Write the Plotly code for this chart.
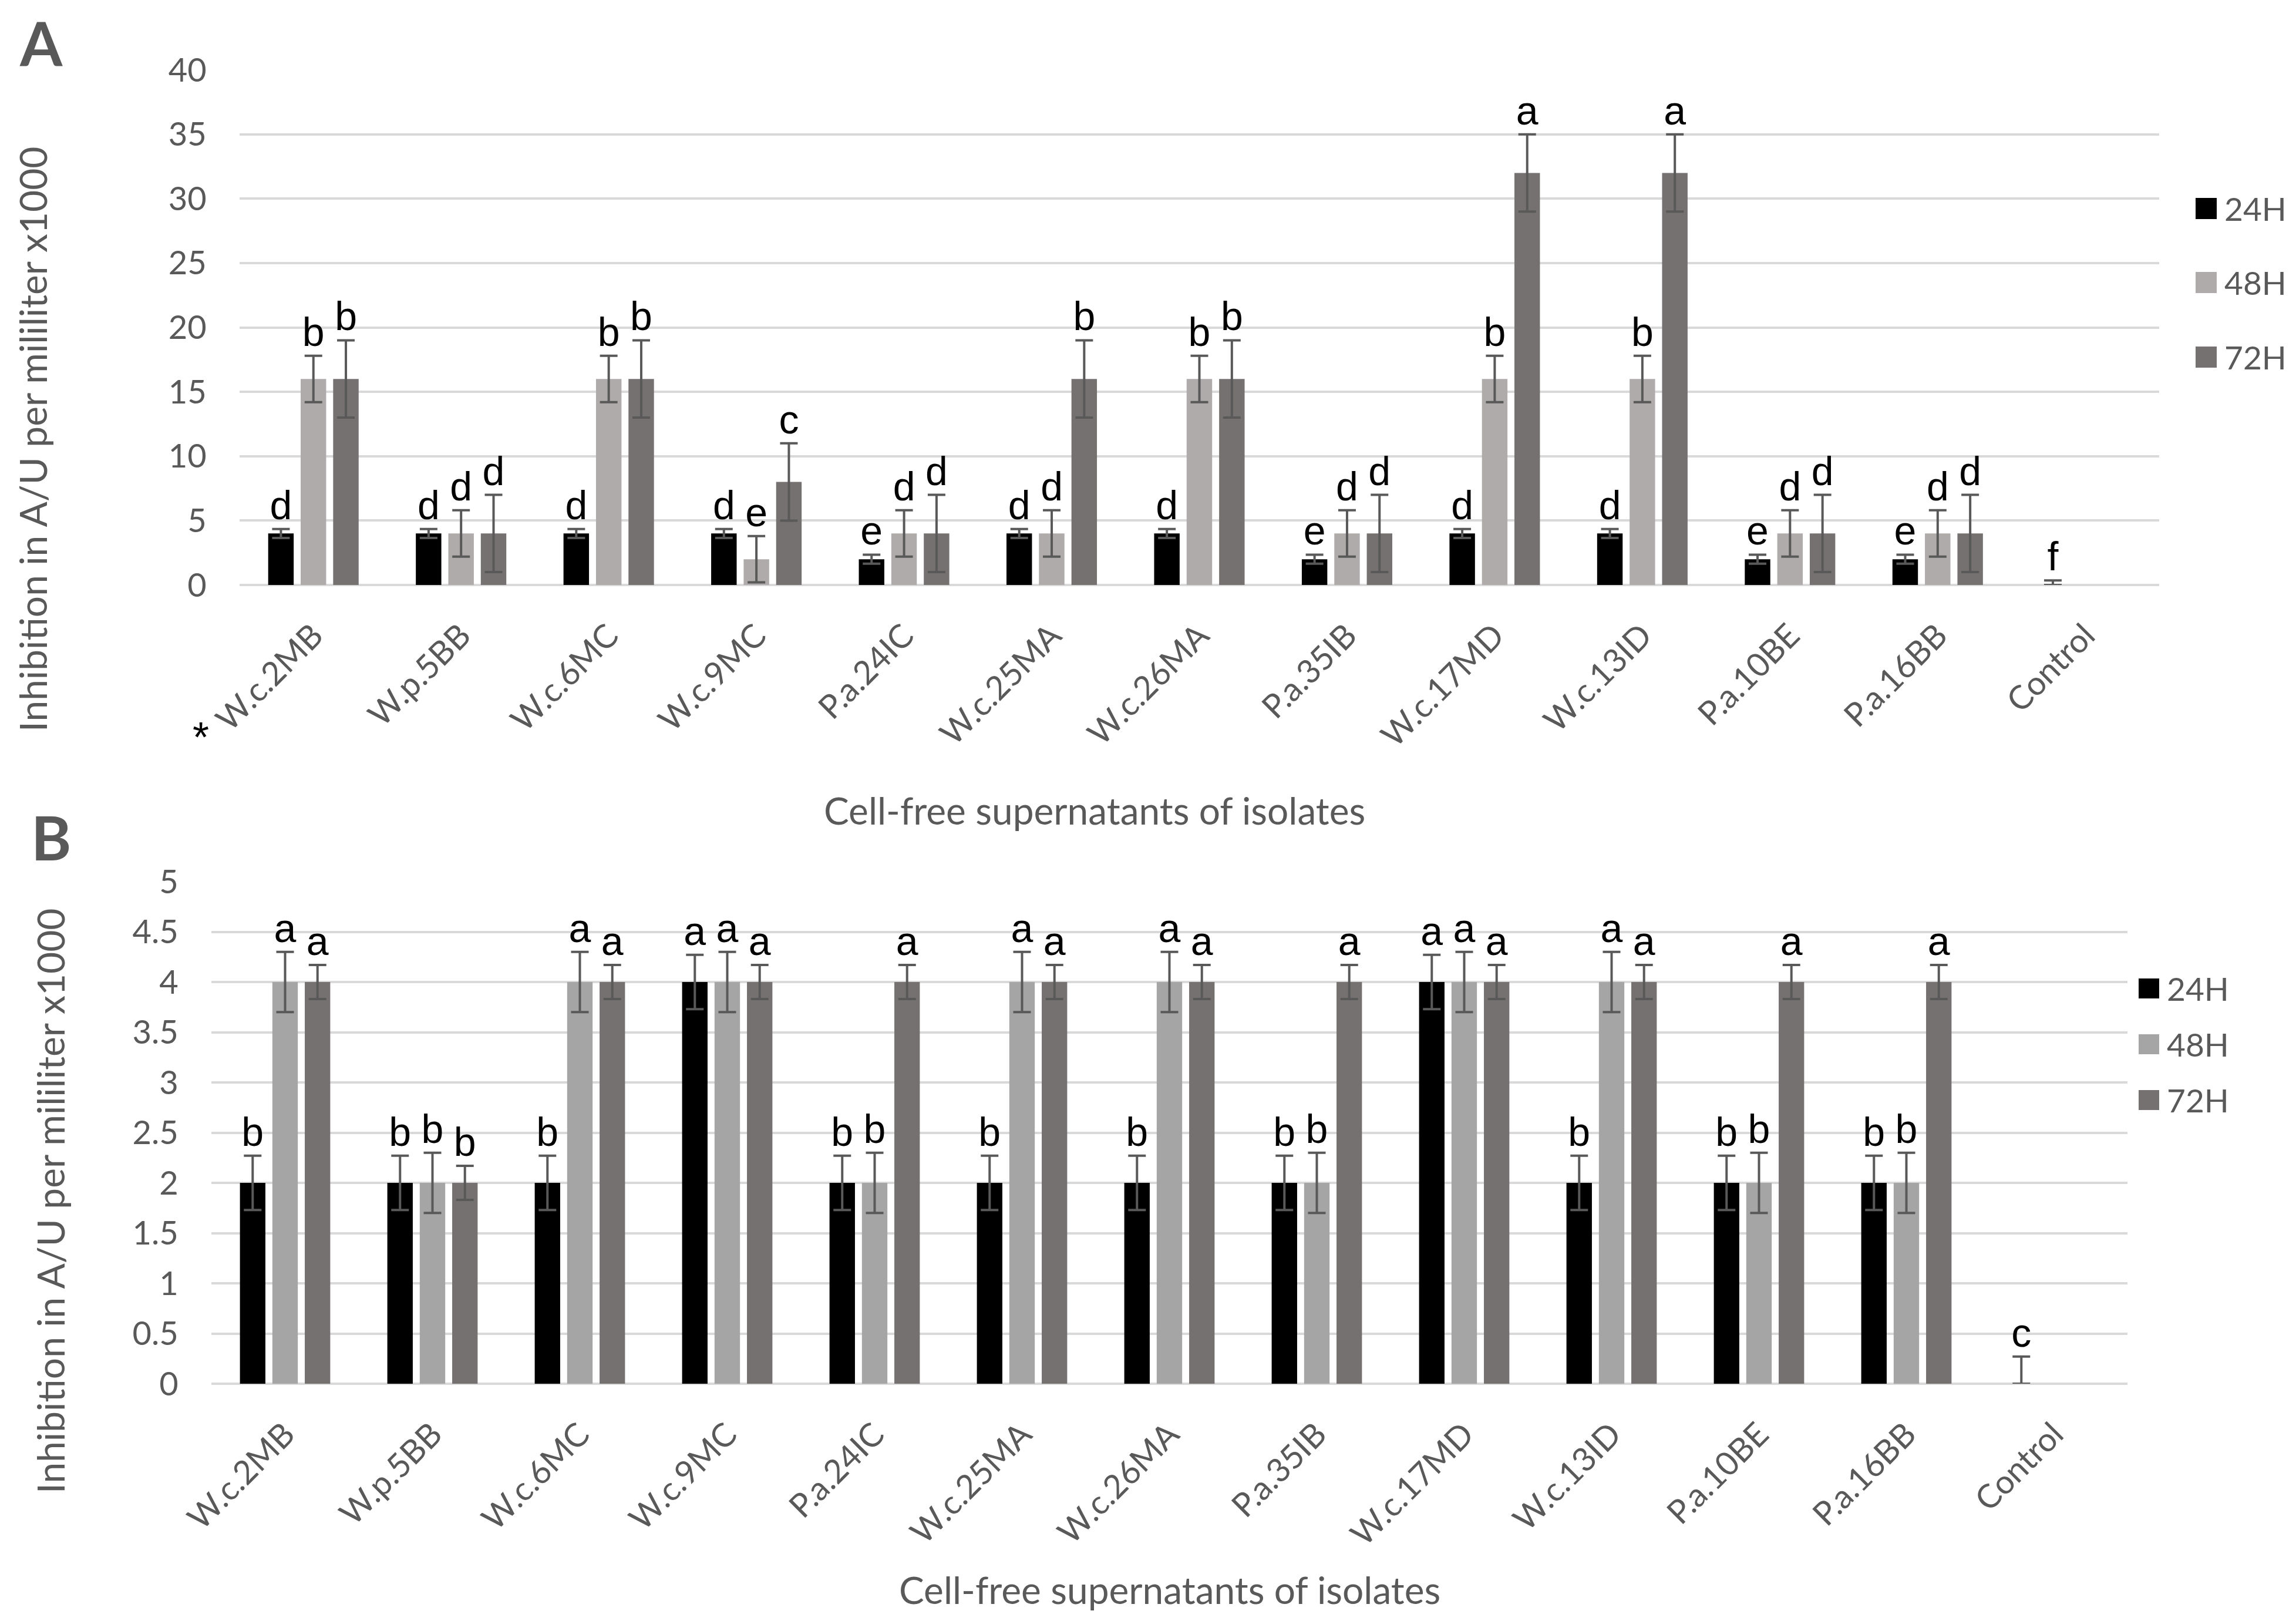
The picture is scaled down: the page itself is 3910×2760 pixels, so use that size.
import plotly.graph_objects as go

# ---------------- data ----------------
categories = ["W.c.2MB", "W.p.5BB", "W.c.6MC", "W.c.9MC", "P.a.24IC", "W.c.25MA",
              "W.c.26MA", "P.a.35IB", "W.c.17MD", "W.c.13ID", "P.a.10BE", "P.a.16BB", "Control"]
series_names = ["24H", "48H", "72H"]

# Panel A (Control shows no bar for 48H / 72H)
a_24 = [4, 4, 4, 4, 2, 4, 4, 2, 4, 4, 2, 2, 0]
a_48 = [16, 4, 16, 2, 4, 4, 16, 4, 16, 16, 4, 4, None]
a_72 = [16, 4, 16, 8, 4, 16, 16, 4, 32, 32, 4, 4, None]
a_err_24 = [0.35, 0.35, 0.35, 0.35, 0.35, 0.35, 0.35, 0.35, 0.35, 0.35, 0.35, 0.35, 0.35]
a_errm_24 = [0.35, 0.35, 0.35, 0.35, 0.35, 0.35, 0.35, 0.35, 0.35, 0.35, 0.35, 0.35, 0]
a_err_48 = [1.8, 1.8, 1.8, 1.8, 1.8, 1.8, 1.8, 1.8, 1.8, 1.8, 1.8, 1.8, 0]
a_err_72 = [3, 3, 3, 3, 3, 3, 3, 3, 3, 3, 3, 3, 0]
a_let_24 = ["d", "d", "d", "d", "e", "d", "d", "e", "d", "d", "e", "e", "f"]
a_let_48 = ["b", "d", "b", "e", "d", "d", "b", "d", "b", "b", "d", "d", ""]
a_let_72 = ["b", "d", "b", "c", "d", "b", "b", "d", "a", "a", "d", "d", ""]

# Panel B
b_24 = [2, 2, 2, 4, 2, 2, 2, 2, 4, 2, 2, 2, 0]
b_48 = [4, 2, 4, 4, 2, 4, 4, 2, 4, 4, 2, 2, None]
b_72 = [4, 2, 4, 4, 4, 4, 4, 4, 4, 4, 4, 4, None]
b_err_24 = [0.27, 0.27, 0.27, 0.27, 0.27, 0.27, 0.27, 0.27, 0.27, 0.27, 0.27, 0.27, 0.27]
b_errm_24 = [0.27, 0.27, 0.27, 0.27, 0.27, 0.27, 0.27, 0.27, 0.27, 0.27, 0.27, 0.27, 0]
b_err_48 = [0.3, 0.3, 0.3, 0.3, 0.3, 0.3, 0.3, 0.3, 0.3, 0.3, 0.3, 0.3, 0]
b_err_72 = [0.17, 0.17, 0.17, 0.17, 0.17, 0.17, 0.17, 0.17, 0.17, 0.17, 0.17, 0.17, 0]
b_let_24 = ["b", "b", "b", "a", "b", "b", "b", "b", "a", "b", "b", "b", "c"]
b_let_48 = ["a", "b", "a", "a", "b", "a", "a", "b", "a", "a", "b", "b", ""]
b_let_72 = ["a", "b", "a", "a", "a", "a", "a", "a", "a", "a", "a", "a", ""]

y_title = "Inhibition in A/U per mililiter x1000"
x_title = "Cell-free supernatants of isolates"

# ---------------- style ----------------
W, H = 3910, 2760
colors_a = ["#000000", "#AFABAB", "#767171"]
colors_b = ["#000000", "#A5A5A5", "#767171"]
GRAY = "#595959"
GRID = "#D9D9D9"
TICKFONT = dict(family="Lato", size=56, color=GRAY)
LETTERFONT = dict(family="Liberation Sans", size=68, color="#000000")


def px(x):
    return x / W


def py(y):
    return 1 - y / H


fig = go.Figure()


def add_panel(vals, errs, errms, letters, colors, xa, ya):
    for k in range(3):
        fig.add_trace(go.Bar(
            x=categories, y=vals[k], name=series_names[k],
            marker=dict(color=colors[k], line=dict(width=0)),
            offsetgroup=series_names[k],
            error_y=dict(type="data", array=errs[k], arrayminus=errms[k], symmetric=False,
                         color=GRAY, thickness=4, width=15),
            xaxis=xa, yaxis=ya, showlegend=False,
        ))
    for k in range(3):
        tops = [None if v is None else v + e for v, e in zip(vals[k], errs[k])]
        fig.add_trace(go.Scatter(
            x=categories, y=tops, text=letters[k], mode="text",
            textposition="top center", textfont=LETTERFONT,
            offsetgroup=series_names[k], cliponaxis=False,
            xaxis=xa, yaxis=ya, showlegend=False, hoverinfo="skip",
        ))


add_panel([a_24, a_48, a_72], [a_err_24, a_err_48, a_err_72],
          [a_errm_24, a_err_48, a_err_72],
          [a_let_24, a_let_48, a_let_72], colors_a, "x", "y")
add_panel([b_24, b_48, b_72], [b_err_24, b_err_48, b_err_72],
          [b_errm_24, b_err_48, b_err_72],
          [b_let_24, b_let_48, b_let_72], colors_b, "x2", "y2")

xcommon = dict(type="category", tickangle=-45, tickfont=TICKFONT, showgrid=False,
               zeroline=False, showline=False, ticks="outside", ticklen=30,
               tickcolor="rgba(0,0,0,0)", automargin=False)
ycommon = dict(tickfont=TICKFONT, showgrid=True, gridcolor=GRID, gridwidth=4,
               zeroline=True, zerolinecolor=GRID, zerolinewidth=4, showline=False,
               ticks="outside", ticklen=44, tickcolor="rgba(0,0,0,0)", automargin=False)

fig.update_layout(
    template="none",
    width=W, height=H,
    margin=dict(l=0, r=0, t=0, b=0, autoexpand=False),
    paper_bgcolor="white", plot_bgcolor="white",
    barmode="group", bargap=0.34, bargroupgap=0.215,
    scattermode="group", scattergap=0.34,
    xaxis=dict(domain=[px(408), px(3677)], anchor="y", **xcommon),
    yaxis=dict(domain=[py(996), py(119)], anchor="x", range=[0, 40], dtick=5, **ycommon),
    xaxis2=dict(domain=[px(360), px(3623)], anchor="y2", **xcommon),
    yaxis2=dict(domain=[py(2356), py(1501)], anchor="x2", range=[0, 5], dtick=0.5, **ycommon),
    showlegend=False,
)

annotations = []
shapes = []


def note(text, x, y, font, **kw):
    d = dict(text=text, x=px(x), y=py(y), xref="paper", yref="paper",
             xanchor="center", yanchor="middle", showarrow=False, font=font)
    d.update(kw)
    annotations.append(d)


# panel letters
note("<b>A</b>", 70, 72, dict(family="Lato", size=104, color=GRAY))
note("<b>B</b>", 87, 1424, dict(family="Lato", size=104, color=GRAY))
# asterisk
note("*", 342, 1255, dict(family="Liberation Sans", size=72, color="#000000"))
# axis titles
TITLEFONT = dict(family="Lato", size=64, color=GRAY)
note(x_title, 1864, 1379, TITLEFONT)
note(x_title, 1992, 2706, TITLEFONT)
note(y_title, 55, 748, TITLEFONT, textangle=-90)
note(y_title, 85, 2045, TITLEFONT, textangle=-90)

# legends (key squares + labels)
LEGFONT = dict(family="Lato", size=55, color=GRAY)
for k, yc in enumerate([355, 481, 608]):
    shapes.append(dict(type="rect", xref="paper", yref="paper",
                       x0=px(3739), x1=px(3775), y0=py(yc + 18), y1=py(yc - 18),
                       fillcolor=colors_a[k], line=dict(width=0)))
    note(series_names[k], 3786, yc, LEGFONT, xanchor="left")
for k, yc in enumerate([1683, 1778, 1873]):
    shapes.append(dict(type="rect", xref="paper", yref="paper",
                       x0=px(3642), x1=px(3677), y0=py(yc + 17), y1=py(yc - 17),
                       fillcolor=colors_b[k], line=dict(width=0)))
    note(series_names[k], 3688, yc, LEGFONT, xanchor="left")

fig.update_layout(annotations=annotations, shapes=shapes)
fig.write_html("out.html", config={"displayModeBar": False},
               post_script="document.body.style.margin='0px';document.body.style.overflow='hidden';")
